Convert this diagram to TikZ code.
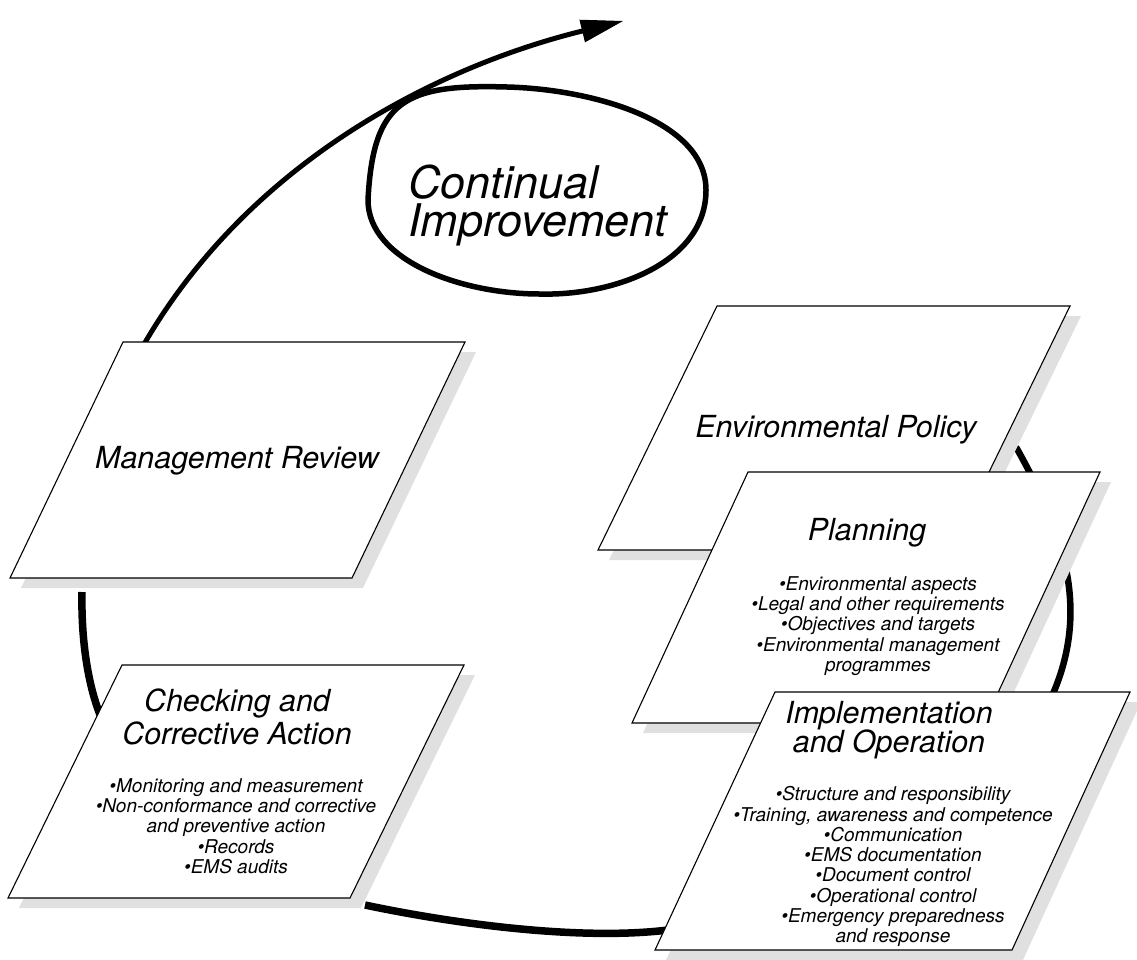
\documentclass[tikz,border=0pt]{standalone}
\usepackage{fontspec}
\setmainfont{TeX Gyre Heros}
\usetikzlibrary{shapes.geometric,arrows.meta}
\begin{document}
\begin{tikzpicture}[x=1pt,y=-1pt,
  box/.style={draw=black, fill=white, line width=1.1pt, line join=miter},
  shadowfill/.style={fill=black!12, draw=none},
  loopline/.style={draw=black, line cap=butt},
  titletext/.style={inner sep=0pt, align=center},
  listtext/.style={font=\fontsize{19}{20.3}\selectfont\itshape, inner sep=0pt, align=center},
]
\useasboundingbox (0,0) rectangle (1137,959);

% end points of the improvement loop
\coordinate (arrowStart) at (143,346);
\coordinate (arrowEnd) at (623,21);
\coordinate (leftTop) at (82,592);
\coordinate (leftBot) at (104,724);
\coordinate (botLeft) at (365,905);
\coordinate (botRight) at (668,930);
\coordinate (rightTop) at (1016,447);
\coordinate (rightBot) at (1040,720);

% loop segments (behind the boxes)
\draw[loopline, line width=7.5pt] (leftTop) .. controls (81,640) and (88,690) .. (leftBot);
\draw[loopline, line width=7.5pt] (botLeft) .. controls (450,923) and (578,941) .. (botRight);
\draw[loopline, line width=6.5pt] (rightTop) .. controls (1070,543) and (1094,624) .. (rightBot);

% Management Review
\fill[shadowfill, shift={(11,10)}] (123,342) -- (465,342) -- (352,578) -- (10,578) -- cycle;
\draw[loopline, line width=5pt, -{Triangle[length=42pt,width=23pt,line width=1pt]}]
  (arrowStart) .. controls (250,160) and (440,66) .. (arrowEnd);
\draw[box] (123,342) -- (465,342) -- (352,578) -- (10,578) -- cycle;
\node[titletext, font=\fontsize{30.4}{30}\selectfont\itshape, anchor=base] (mr) at (237,468) {Management Review};

% Checking and Corrective Action
\fill[shadowfill, shift={(11,10)}] (122,665) -- (464,665) -- (350,898) -- (8,898) -- cycle;
\draw[box] (122,665) -- (464,665) -- (350,898) -- (8,898) -- cycle;
\node[titletext, font=\fontsize{30.4}{33}\selectfont\itshape, anchor=north] (ck) at (237,688.1) {Checking and\\Corrective Action};
\node[listtext, anchor=north] (ckList) at (236,778.3) {•Monitoring and measurement\\•Non-conformance and corrective\\and preventive action\\•Records\\•EMS audits};

% Environmental Policy
\fill[shadowfill, shift={(11,10)}] (717,306) -- (1070,306) -- (951,550) -- (598,550) -- cycle;
\draw[box] (717,306) -- (1070,306) -- (951,550) -- (598,550) -- cycle;
\node[titletext, font=\fontsize{30.4}{30}\selectfont\itshape, anchor=base] (ep) at (836,437) {Environmental Policy};

% Planning
\fill[shadowfill, shift={(11,10)}] (748,472) -- (1100,472) -- (984,723) -- (632,723) -- cycle;
\draw[box] (748,472) -- (1100,472) -- (984,723) -- (632,723) -- cycle;
\node[titletext, font=\fontsize{30.4}{30}\selectfont\itshape, anchor=base] (pl) at (867,540) {Planning};
\node[listtext, anchor=north] (plList) at (878,576.3) {•Environmental aspects\\•Legal and other requirements\\•Objectives and targets\\•Environmental management\\programmes};

% Implementation and Operation
\fill[shadowfill, shift={(11,10)}] (775,692) -- (1130,692) -- (1012,950) -- (655,950) -- cycle;
\draw[box] (775,692) -- (1130,692) -- (1012,950) -- (655,950) -- cycle;
\node[titletext, font=\fontsize{30.4}{29.5}\selectfont\itshape, anchor=north] (io) at (889,701.1) {Implementation\\and Operation};
\node[listtext, anchor=north] (ioList) at (893,786.3) {•Structure and responsibility\\•Training, awareness and competence\\•Communication\\•EMS documentation\\•Document control\\•Operational control\\•Emergency preparedness\\and response};

% Continual Improvement (hand-drawn oval)
\draw[line width=5.5pt, line join=round]
  (368,200) .. controls (373,100) and (405,84) .. (507,87)
            .. controls (590,89) and (706,120) .. (706,190)
            .. controls (706,262) and (615,296) .. (540,294)
            .. controls (460,294) and (368,260) .. (368,200) -- cycle;
\node[anchor=north west, align=left, inner sep=0pt, font=\fontsize{45}{38}\selectfont\itshape] (ciText) at (408,164.5) {Continual\\Improvement};
\end{tikzpicture}
\end{document}
